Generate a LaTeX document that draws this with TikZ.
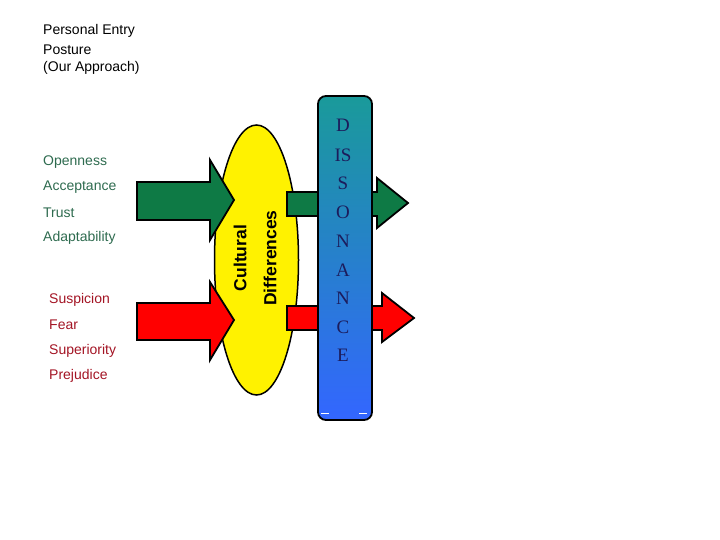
\documentclass[tikz,border=0pt]{standalone}
\usepackage{fontspec}
\setmainfont{Liberation Sans}
\newfontfamily\dissfont{Liberation Serif}
\usetikzlibrary{shapes.geometric}
\definecolor{arrgreen}{HTML}{0E7A45}
\definecolor{arrred}{HTML}{FF0000}
\definecolor{txtgreen}{HTML}{2E6B4F}
\definecolor{txtred}{HTML}{A31424}
\definecolor{barteal}{HTML}{1A9A9A}
\definecolor{barblue}{HTML}{3366FF}
\definecolor{dissnavy}{HTML}{1C1C5C}
\tikzset{
  lbl/.style={anchor=west, inner sep=0pt, font=\fontsize{14}{16}\selectfont},
  goodlbl/.style={lbl, text=txtgreen},
  badlbl/.style={lbl, text=txtred},
  arrowpoly/.style={draw=black, line width=1.8pt, line join=miter},
  cult/.style={rotate=90, inner sep=0pt, font=\fontsize{17.5}{20}\selectfont\bfseries},
  dletter/.style={inner sep=0pt, text=dissnavy, font=\fontsize{19}{21}\selectfont\dissfont},
}
\begin{document}
\begin{tikzpicture}[x=1pt,y=-1pt]
\useasboundingbox (0,0) rectangle (720,540);
% header
\node[lbl] (h1) at (43,31) {Personal Entry};
\node[lbl] (h2) at (43,49.5) {Posture};
\node[lbl] (h3) at (43,68) {(Our Approach)};
% green labels
\node[goodlbl] (g1) at (43,162) {Openness};
\node[goodlbl] (g2) at (43,187) {Acceptance};
\node[goodlbl] (g3) at (43,213) {Trust};
\node[goodlbl] (g4) at (43,238) {Adaptability};
% red labels
\node[badlbl] (r1) at (49,300) {Suspicion};
\node[badlbl] (r2) at (49,325) {Fear};
\node[badlbl] (r3) at (49,351) {Superiority};
\node[badlbl] (r4) at (49,376) {Prejudice};
% ellipse
\node[ellipse, draw=black, line width=1.5pt, fill=yellow, minimum width=84pt, minimum height=270pt, inner sep=0pt] (ell) at (256.5,260) {};
% left arrows
\draw[arrowpoly, fill=arrgreen] (137,182) -- (210,182) -- (210,160) -- (234,200) -- (210,240) -- (210,220) -- (137,220) -- cycle;
\draw[arrowpoly, fill=arrred] (137,303) -- (210,303) -- (210,282) -- (234,320) -- (210,360) -- (210,340) -- (137,340) -- cycle;
% right arrows
\draw[arrowpoly, fill=arrgreen] (287,192) -- (377,192) -- (377,178) -- (408,203) -- (377,228) -- (377,216) -- (287,216) -- cycle;
\draw[arrowpoly, fill=arrred] (287,306) -- (382,306) -- (382,293) -- (414,318) -- (382,342) -- (382,330) -- (287,330) -- cycle;
% bar
\shade[top color=barteal, bottom color=barblue, rounded corners=8pt] (318,96) rectangle (372,420);
\node[draw=black, line width=1.8pt, rounded corners=8pt, minimum width=54pt, minimum height=324pt, inner sep=0pt] (bar) at (345,258) {};
\draw[white, line width=0.8pt] (321,413) -- (329,413) (359,413) -- (367,413);
% DISSONANCE
\node[dletter] (d1) at (343,125) {D};
\node[dletter] (d2) at (343,155) {IS};
\node[dletter] (d3) at (343,183) {S};
\node[dletter] (d4) at (343,212) {O};
\node[dletter] (d5) at (343,241) {N};
\node[dletter] (d6) at (343,270) {A};
\node[dletter] (d7) at (343,298) {N};
\node[dletter] (d8) at (343,327) {C};
\node[dletter] (d9) at (343,355) {E};
% cultural differences
\node[cult] (c1) at (240,258) {Cultural};
\node[cult] (c2) at (270,258) {Differences};
\end{tikzpicture}
\end{document}
